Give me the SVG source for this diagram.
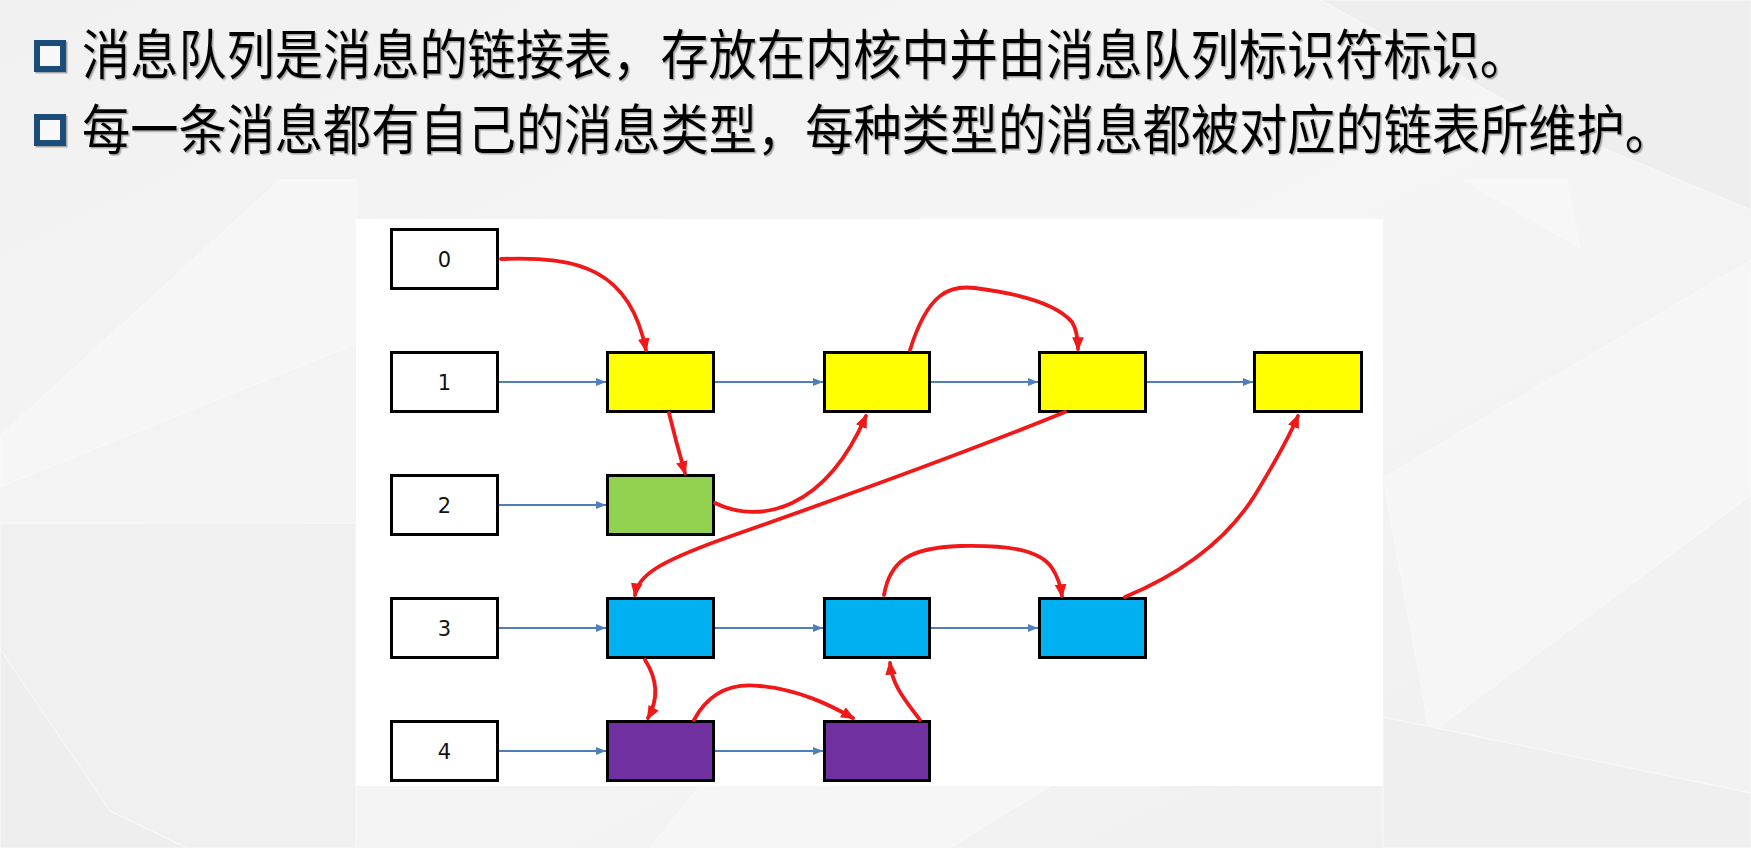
<svg xmlns="http://www.w3.org/2000/svg" width="1751" height="848" viewBox="0 0 1751 848">
<defs>
<style>
.hdr{font-family:"Noto Sans CJK SC","Noto Sans",sans-serif;font-size:50px;fill:#050505;}
.bul{fill:#f8f8f8;stroke:#1f4e79;stroke-width:6;}
.idx{fill:#ffffff;stroke:#000;stroke-width:3;}
.lbl{font-family:"DejaVu Sans",Verdana,sans-serif;font-size:21px;fill:#111;text-anchor:middle;}
.n{stroke:#000;stroke-width:3;}
.y{fill:#ffff00;}
.g{fill:#92d050;}
.b{fill:#00b0f0;}
.p{fill:#7030a0;}
.blue{fill:none;stroke:#4f7fba;stroke-width:2.2;marker-end:url(#ab);}
.red{fill:none;stroke:#f01818;stroke-width:3.8;stroke-linecap:round;marker-end:url(#ar);}
.facet{stroke:#f9f9f9;stroke-width:1;}
</style>
<marker id="ab" viewBox="0 0 10 8" refX="10" refY="4" markerWidth="10" markerHeight="8" markerUnits="userSpaceOnUse" orient="auto">
<path d="M0,0 L10,4 L0,8 Z" fill="#4f7fba"/>
</marker>
<marker id="ar" viewBox="0 0 12 10" refX="10" refY="5" markerWidth="14" markerHeight="12" markerUnits="userSpaceOnUse" orient="auto">
<path d="M0,0 L12,5 L0,10 Z" fill="#f01818"/>
</marker>
<filter id="sh" filterUnits="userSpaceOnUse" x="0" y="0" width="1751" height="200">
<feDropShadow dx="1.5" dy="1.5" stdDeviation="0.6" flood-color="#777" flood-opacity="0.6"/>
</filter>
<linearGradient id="bg" x1="0" y1="0" x2="1" y2="1">
<stop offset="0" stop-color="#f1f1f1"/>
<stop offset="0.5" stop-color="#f5f5f5"/>
<stop offset="1" stop-color="#efefef"/>
</linearGradient>
</defs>

<g id="background">
<rect x="0" y="0" width="1751" height="848" fill="url(#bg)"/>
<polygon class="facet" points="0,436 280,180 356,180 356,344 0,487" fill="#f6f6f6"/>
<polygon class="facet" points="0,523 356,523 356,848 187,848 110,811 0,649" fill="#f0f0f0"/>
<polygon class="facet" points="0,649 110,811 187,848 0,848" fill="#eeeeee"/>
<polygon class="facet" points="1320,0 1751,0 1751,210 1560,130" fill="#eeeeee"/>
<polygon class="facet" points="1463,180 1580,248 1567,180" fill="#f7f7f7"/>
<polygon class="facet" points="1383,478 1751,260 1751,495 1430,734" fill="#f6f6f6"/>
<polygon class="facet" points="1430,734 1751,495 1751,793" fill="#f2f2f2"/>
<polygon class="facet" points="1383,717 1751,793 1751,848 1383,848" fill="#efefef"/>
<polygon class="facet" points="700,786 1050,786 950,848 650,848" fill="#f6f6f6"/>
</g>

<g id="header" filter="url(#sh)">
<rect class="bul" x="37" y="43" width="26" height="26"/>
<text class="hdr" transform="translate(82,75) scale(1,1.08)" x="0" y="0" textLength="1446" lengthAdjust="spacingAndGlyphs">消息队列是消息的链接表，存放在内核中并由消息队列标识符标识。</text>
<rect class="bul" x="37" y="117" width="26" height="26"/>
<text class="hdr" transform="translate(82,149.5) scale(1,1.08)" x="0" y="0" textLength="1591" lengthAdjust="spacingAndGlyphs">每一条消息都有自己的消息类型，每种类型的消息都被对应的链表所维护。</text>
</g>

<rect id="panel" x="356" y="219" width="1027" height="567" fill="#ffffff"/>

<g id="idx0"><rect class="idx" x="391.5" y="229.5" width="106" height="59"/><text class="lbl" x="444.5" y="266.5">0</text></g>
<g id="idx1"><rect class="idx" x="391.5" y="352.5" width="106" height="59"/><text class="lbl" x="444.5" y="389.5">1</text></g>
<g id="idx2"><rect class="idx" x="391.5" y="475.5" width="106" height="59"/><text class="lbl" x="444.5" y="512.5">2</text></g>
<g id="idx3"><rect class="idx" x="391.5" y="598.5" width="106" height="59"/><text class="lbl" x="444.5" y="635.5">3</text></g>
<g id="idx4"><rect class="idx" x="391.5" y="721.5" width="106" height="59"/><text class="lbl" x="444.5" y="758.5">4</text></g>

<g id="r1c1"><rect class="n y" x="607.5" y="352.5" width="106" height="59"/></g>
<g id="r1c2"><rect class="n y" x="824.5" y="352.5" width="105" height="59"/></g>
<g id="r1c3"><rect class="n y" x="1039.5" y="352.5" width="106" height="59"/></g>
<g id="r1c4"><rect class="n y" x="1254.5" y="352.5" width="107" height="59"/></g>
<g id="r2c1"><rect class="n g" x="607.5" y="475.5" width="106" height="59"/></g>
<g id="r3c1"><rect class="n b" x="607.5" y="598.5" width="106" height="59"/></g>
<g id="r3c2"><rect class="n b" x="824.5" y="598.5" width="105" height="59"/></g>
<g id="r3c3"><rect class="n b" x="1039.5" y="598.5" width="106" height="59"/></g>
<g id="r4c1"><rect class="n p" x="607.5" y="721.5" width="106" height="59"/></g>
<g id="r4c2"><rect class="n p" x="824.5" y="721.5" width="105" height="59"/></g>

<g id="connectors">
<path class="blue" d="M499,382 L606,382"/>
<path class="blue" d="M715,382 L823,382"/>
<path class="blue" d="M931,382 L1038,382"/>
<path class="blue" d="M1147,382 L1253,382"/>
<path class="blue" d="M499,505 L606,505"/>
<path class="blue" d="M499,628 L606,628"/>
<path class="blue" d="M715,628 L823,628"/>
<path class="blue" d="M931,628 L1038,628"/>
<path class="blue" d="M499,751 L606,751"/>
<path class="blue" d="M715,751 L823,751"/>

<path class="red" d="M501,259 C580,256 630,270 646,350"/>
<path class="red" d="M669,413 Q676,442 685,473"/>
<path class="red" d="M715,503 C760,525 825,510 866,416"/>
<path class="red" d="M910,350 C928,292 950,285 975,288 C1030,295 1060,308 1072,322 Q1078,332 1078,349"/>
<path class="red" d="M1065,412 C960,455 820,505 720,540 C660,562 638,575 635,595"/>
<path class="red" d="M1125,597 C1190,570 1230,535 1255,495 C1275,462 1290,435 1298,416"/>
<path class="red" d="M884,595 C890,560 910,548 960,546 C1010,545 1040,550 1052,568 Q1060,580 1062,596"/>
<path class="red" d="M645,660 C658,680 658,700 648,718"/>
<path class="red" d="M694,720 C710,690 735,683 760,686 C800,690 830,705 853,718"/>
<path class="red" d="M920,720 C905,700 892,685 890,663"/>
</g>
</svg>
